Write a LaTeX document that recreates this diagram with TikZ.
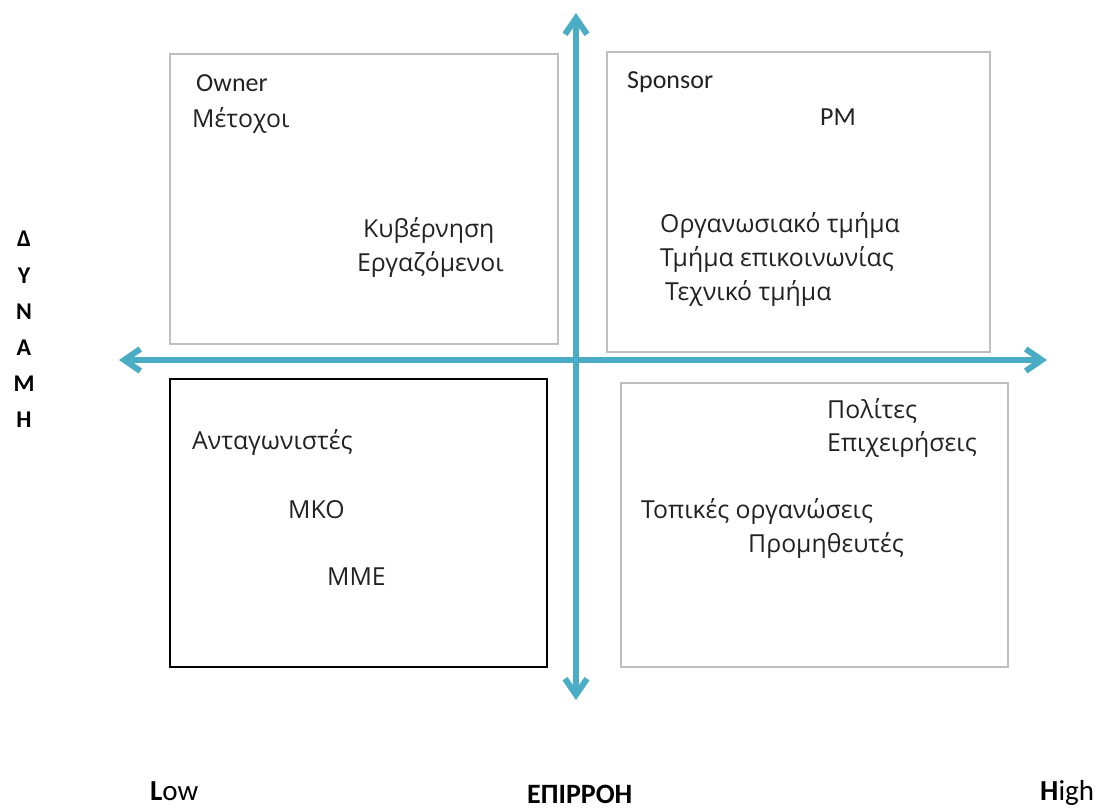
\documentclass[tikz,border=0pt]{standalone}
\usepackage{fontspec}
\setmainfont{Carlito}
\newfontfamily\greekface{Open Sans}
\usetikzlibrary{arrows.meta}

\definecolor{axisblue}{HTML}{4BACC6}
\definecolor{boxgray}{HTML}{BFBFBF}
\definecolor{inkgray}{HTML}{222222}

\begin{document}
\begin{tikzpicture}[x=1pt, y=-1pt,
    entry/.style={anchor=base west, inner sep=0pt, text=inkgray, font=\fontsize{26}{31}\selectfont},
    grentry/.style={entry, font=\greekface\fontsize{24.8}{29}\selectfont},
    letter/.style={anchor=base, inner sep=0pt, font=\fontsize{24}{28}\selectfont\bfseries},
    endlabel/.style={anchor=base west, inner sep=0pt, font=\fontsize{29}{34}\selectfont},
    quad/.style={draw=boxgray, line width=1.6pt},
    axisline/.style={draw=axisblue, line width=6pt,
        {Straight Barb[length=16pt, width=22pt]}-{Straight Barb[length=16pt, width=22pt]}}]

\useasboundingbox (0,0) rectangle (1102,810);

% ── Quadrant boxes ──
\draw[quad] (170, 54) rectangle (558, 344);
\draw[quad] (607, 52) rectangle (990, 352);
\draw[quad] (621, 383) rectangle (1008, 667);
\draw[draw=black, line width=1.6pt] (170, 379) rectangle (547, 667);

% ── Axes ──
\coordinate (west) at (119, 360);
\coordinate (east) at (1047, 360);
\coordinate (north) at (576, 13);
\coordinate (south) at (576, 700);
\draw[axisline] (west) -- (east);
\draw[axisline] (north) -- (south);

% ── Top left ──
\node[entry] (owner) at (196, 92) {Owner};
\node[grentry] (metochoi) at (192, 128) {Μέτοχοι};
\node[grentry] (kyvernisi) at (363, 237) {Κυβέρνηση};
\node[grentry] (ergazomenoi) at (357, 271) {Εργαζόμενοι};

% ── Top right ──
\node[entry] (sponsor) at (627, 89) {Sponsor};
\node[entry] (pm) at (820, 126) {PM};
\node[grentry] (organosiako) at (660, 233) {Οργανωσιακό τμήμα};
\node[grentry] (epikoinonia) at (660, 266) {Τμήμα επικοινωνίας};
\node[grentry] (techniko) at (665, 300) {Τεχνικό τμήμα};

% ── Bottom left ──
\node[grentry] (antagonistes) at (192, 449) {Ανταγωνιστές};
\node[grentry] (mko) at (288, 518) {ΜΚΟ};
\node[grentry] (mme) at (327, 585) {ΜΜΕ};

% ── Bottom right ──
\node[grentry] (polites) at (827, 418) {Πολίτες};
\node[grentry] (epicheiriseis) at (827, 451) {Επιχειρήσεις};
\node[grentry] (topikes) at (641, 518) {Τοπικές οργανώσεις};
\node[grentry] (promitheutes) at (748, 552) {Προμηθευτές};

% ── Axis labels ──
\foreach \ch [count=\i] in {Δ,Υ,Ν,Α,Μ,Η}
    \node[letter] (dynami\i) at (24, 211 + 36*\i) {\ch};

\node[endlabel] (low) at (150, 800) {\textbf{L}ow};
\node[endlabel, font=\fontsize{28}{33}\selectfont\bfseries] (epirroi) at (527, 803) {ΕΠΙΡΡΟΗ};
\node[endlabel] (high) at (1040, 800) {\textbf{H}igh};

\end{tikzpicture}
\end{document}
